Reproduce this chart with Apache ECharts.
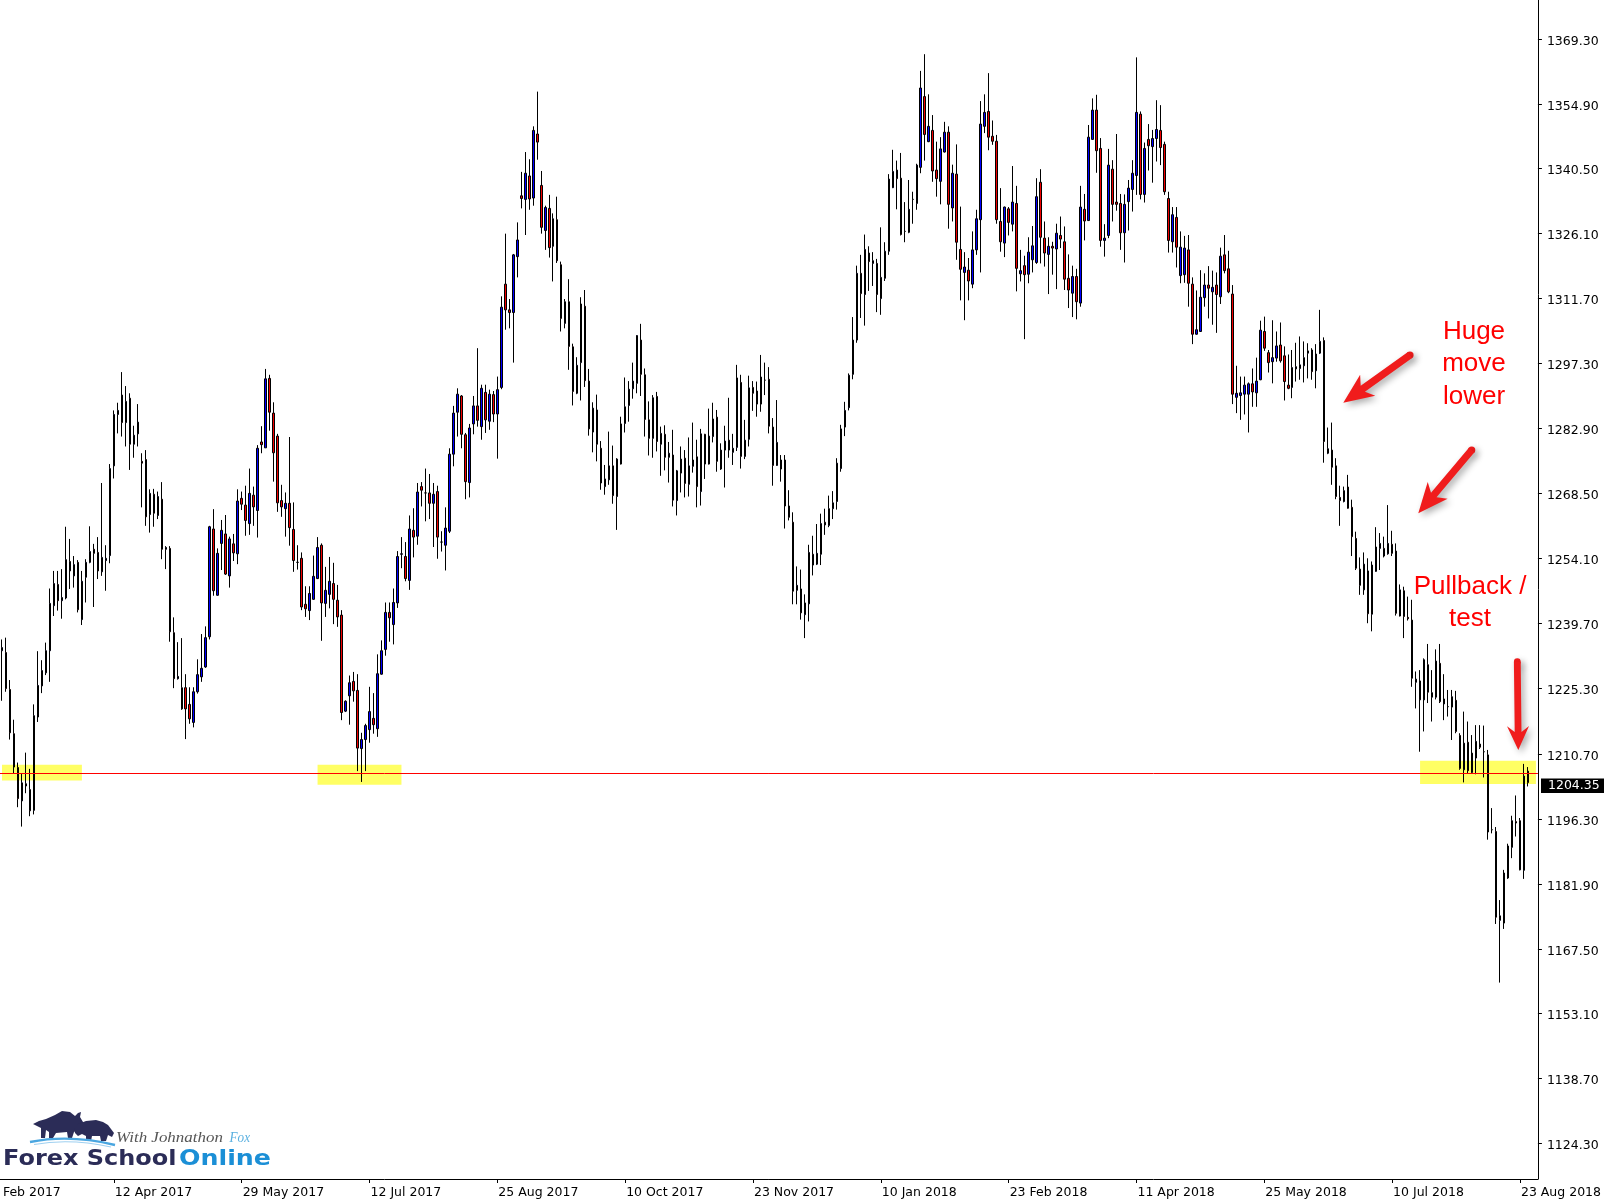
<!DOCTYPE html>
<html>
<head>
<meta charset="utf-8">
<script src="https://cdn.jsdelivr.net/npm/echarts@6/dist/echarts.min.js"></script>
<style>html,body{margin:0;padding:0;background:#fff}#c{width:1604px;height:1203px}</style>
</head>
<body>
<div id="c"></div>
<script>
// ---------------- DATA ----------------
const startDate = '2017-03-03';
const holidays = ['2017-04-14', '2017-12-25', '2018-01-01', '2018-03-30'];
const rightShiftBars = 2;
const labelEvery = 32, labelOffset = 28;

// [open, close, low, high]
const seg2017a = [
[1233.6,1234.3,1222.5,1236.1],[1233.2,1225.2,1224.5,1236.5],[1225.0,1215.4,1213.9,1227.1],[1215.2,1207.8,1206.3,1218.3],
[1207.7,1200.8,1198.9,1208.8],[1200.3,1204.3,1194.6,1206.3],[1204.1,1203.6,1202.0,1211.0],[1202.8,1198.1,1196.9,1207.4],
[1198.2,1219.2,1197.3,1221.7],[1218.9,1225.9,1217.8,1233.5],[1225.8,1229.2,1224.2,1231.5],[1228.7,1233.6,1228.2,1235.4],
[1233.6,1244.1,1226.7,1247.4],[1243.6,1248.5,1241.3,1251.3],[1248.3,1244.7,1242.5,1251.3],[1244.7,1245.4,1240.7,1251.7],
[1245.3,1253.8,1245.0,1261.1],[1253.4,1251.3,1247.3,1258.4],[1250.2,1252.7,1247.6,1254.6],[1253.2,1242.7,1242.1,1253.7],
[1240.5,1249.0,1239.3,1251.3],[1249.9,1253.2,1244.3,1253.9],[1253.2,1255.6,1253.0,1261.2],[1256.1,1255.2,1243.3,1257.3],
[1255.4,1251.3,1249.5,1258.8],[1251.1,1254.3,1250.2,1270.8],[1253.6,1254.1,1246.9,1257.0],[1254.7,1274.0,1253.0,1275.0],
[1274.6,1286.0,1271.8,1286.9],[1286.0,1286.9,1281.8,1288.6],[1290.3,1284.2,1281.1,1295.4],[1284.2,1288.9,1278.9,1292.3],
[1289.6,1279.4,1273.7,1290.7],[1279.4,1281.4,1276.4,1283.5],[1281.7,1284.3,1278.9,1288.3],[1275.6,1275.2,1265.4,1277.4],
[1276.0,1263.3,1261.3,1278.1],[1263.8,1268.5,1259.8,1269.4],[1268.3,1264.1,1261.1,1269.5],[1263.6,1267.8,1262.8,1268.9],
[1267.2,1256.1,1253.9,1271.0],[1256.1,1256.5,1251.7,1256.8],[1256.3,1237.8,1235.6,1256.8],[1237.6,1227.4,1225.3,1241.0],
[1227.4,1227.9,1227.2,1235.5],[1220.7,1225.4,1220.5,1236.4],[1225.4,1220.7,1214.0,1228.4],[1221.7,1218.5,1217.4,1225.5],
[1217.7,1224.5,1216.6,1225.5],[1224.5,1228.3,1224.1,1231.7]
];
const seg2017b = [
[1227.8,1229.7,1226.7,1237.3],[1230.0,1236.5,1229.8,1239.0],[1236.7,1261.1,1236.1,1261.3],[1260.6,1246.9,1245.8,1265.0],
[1245.9,1255.2,1245.8,1256.3],[1257.4,1260.3,1251.5,1262.6],[1259.5,1250.6,1250.4,1263.7],[1250.2,1258.4,1247.6,1258.9],
[1257.3,1255.3,1253.5,1259.5],[1255.1,1266.8,1252.8,1269.4],[1267.4,1266.1,1264.8,1268.9],[1265.9,1262.5,1259.1,1270.2],
[1261.8,1268.5,1259.3,1274.0],[1268.1,1265.5,1261.3,1270.0],[1264.7,1278.5,1258.7,1279.2],[1279.9,1279.3,1277.4,1283.4],
[1278.6,1293.9,1278.6,1296.1],[1294.0,1286.5,1282.4,1294.8],[1286.3,1277.5,1271.1,1288.7],[1281.2,1266.4,1264.4,1281.7],
[1266.9,1265.5,1263.3,1270.4],[1265.1,1266.3,1258.9,1268.7],[1266.3,1260.9,1256.9,1281.0],[1260.5,1253.6,1251.1,1266.5],
[1253.2,1253.2,1251.6,1257.0],[1254.1,1243.3,1242.6,1255.4],[1243.9,1242.9,1241.1,1247.9],[1242.5,1246.3,1240.4,1247.9],
[1245.0,1250.1,1244.9,1254.7],[1249.6,1256.5,1249.5,1258.8],[1257.0,1244.2,1235.8,1257.4],[1244.1,1247.0,1241.1,1252.2],
[1246.1,1249.0,1243.0,1254.4],[1248.5,1245.0,1239.5,1253.1],[1244.8,1241.1,1238.9,1248.2],[1241.5,1219.9,1218.2,1242.6],
[1220.2,1222.4,1220.0,1222.6],[1223.6,1226.5,1217.2,1228.1],[1226.8,1224.7,1222.3,1228.9],[1224.8,1212.0,1206.9,1228.4],
[1211.9,1213.9,1204.5,1215.4],[1213.9,1217.0,1206.9,1217.4],[1216.1,1220.1,1213.2,1225.6],[1218.6,1217.2,1215.2,1224.2],
[1216.3,1228.5,1214.5,1232.8],[1228.4,1233.6,1228.3,1235.9],[1233.9,1242.1,1232.5,1244.3],[1242.1,1240.9,1235.6,1244.3],
[1239.4,1244.3,1235.0,1247.4],[1244.2,1254.5,1243.1,1255.7]
];
const seg2017c = [
[1255.0,1255.1,1251.9,1258.8],[1254.5,1249.6,1249.0,1257.7],[1249.2,1260.6,1247.1,1263.6],[1260.3,1258.8,1254.3,1265.2],
[1259.0,1268.8,1257.1,1270.8],[1270.0,1269.2,1265.6,1271.0],[1268.6,1268.6,1262.3,1274.0],[1268.6,1266.3,1262.8,1272.8],
[1266.3,1268.3,1256.6,1270.8],[1268.9,1258.8,1254.0,1270.2],[1257.7,1257.7,1255.6,1260.1],[1257.0,1260.8,1251.4,1265.4],
[1260.1,1277.2,1259.7,1278.5],[1277.2,1286.3,1274.5,1287.9],[1286.5,1290.5,1281.1,1291.8],[1290.1,1281.6,1278.5,1290.3],
[1281.5,1271.1,1267.2,1281.9],[1270.9,1283.0,1267.6,1283.9],[1283.9,1287.9,1281.6,1290.1],[1287.9,1284.7,1283.3,1300.7],
[1283.3,1291.8,1280.4,1292.6],[1290.9,1284.8,1281.9,1292.6],[1284.5,1290.5,1282.6,1291.5],[1290.4,1286.1,1284.3,1291.2],
[1286.1,1291.5,1276.2,1294.4],[1292.0,1309.8,1291.6,1312.2],[1314.9,1309.2,1304.8,1326.1],[1309.2,1308.6,1305.1,1311.6],
[1308.6,1321.4,1297.5,1321.6],[1321.0,1324.7,1316.4,1328.6],[1334.5,1333.9,1331.7,1339.8],[1333.7,1339.5,1325.8,1344.2],
[1338.9,1333.8,1331.4,1342.6],[1334.0,1349.0,1332.3,1349.9],[1348.2,1346.4,1342.5,1357.6],[1336.8,1327.5,1326.1,1340.0],
[1326.8,1331.9,1322.5,1332.3],[1331.7,1323.0,1320.8,1334.7],[1323.3,1329.4,1315.5,1330.6],[1329.2,1320.1,1319.6,1334.3],
[1319.2,1307.3,1304.4,1319.9],[1306.2,1311.0,1305.1,1311.6],[1311.0,1301.1,1295.9,1316.0],[1301.0,1291.1,1288.0,1301.7],
[1290.7,1296.9,1290.5,1298.7],[1297.5,1310.5,1289.1,1312.0],[1310.0,1293.5,1292.1,1313.6],[1293.4,1282.8,1281.3,1296.1],
[1282.1,1287.4,1277.6,1288.7],[1287.0,1279.4,1275.6,1290.4]
];
const seg2017d = [
[1278.5,1270.8,1269.3,1280.1],[1270.0,1271.7,1268.2,1274.8],[1271.5,1274.6,1270.4,1282.2],[1274.6,1268.0,1266.2,1279.1],
[1267.8,1276.1,1260.4,1276.3],[1275.0,1283.9,1274.9,1285.5],[1284.0,1287.7,1282.0,1294.2],[1288.0,1291.6,1284.4,1293.4],
[1291.7,1293.4,1289.5,1297.5],[1292.9,1303.5,1290.7,1303.6],[1302.5,1294.9,1290.1,1306.1],[1294.8,1284.9,1281.1,1296.2],
[1284.8,1280.7,1276.9,1288.9],[1280.7,1289.7,1276.4,1290.3],[1290.0,1280.0,1277.8,1291.0],[1279.4,1281.8,1272.4,1283.3],
[1281.6,1276.5,1273.6,1283.6],[1276.5,1277.4,1270.9,1279.9],[1277.0,1267.0,1265.6,1282.6],[1266.9,1273.5,1263.6,1273.7],
[1273.0,1276.1,1268.7,1278.9],[1276.3,1270.7,1267.6,1278.1],[1270.5,1274.6,1267.8,1280.9],[1274.5,1275.9,1273.1,1284.2],
[1276.6,1270.0,1265.4,1280.4],[1268.9,1281.7,1265.8,1282.8],[1281.6,1275.0,1271.7,1281.7],[1275.0,1281.2,1274.9,1287.3],
[1281.1,1285.0,1279.8,1288.6],[1285.4,1275.6,1273.3,1287.0],[1273.9,1278.1,1273.7,1279.6],[1278.1,1280.1,1269.8,1283.5],
[1280.3,1278.1,1276.4,1289.7],[1277.6,1278.5,1274.8,1281.7],[1278.7,1294.1,1277.9,1297.0],[1293.1,1276.7,1274.0,1294.8],
[1276.7,1280.3,1276.1,1284.8],[1280.5,1291.9,1278.9,1294.6],[1292.0,1290.7,1286.8,1293.4],[1291.2,1288.3,1285.5,1293.3],
[1288.3,1294.3,1286.6,1299.2],[1293.6,1293.6,1290.3,1297.5],[1293.8,1283.4,1281.8,1296.5],[1283.2,1274.7,1270.2,1285.2],
[1274.7,1279.8,1274.6,1289.2],[1273.9,1275.9,1271.1,1277.0],[1275.9,1265.7,1260.7,1277.0],[1265.7,1263.2,1262.5,1269.2],
[1262.1,1246.8,1243.9,1264.3],[1247.0,1248.1,1243.9,1252.3]
];
const seg2018a = [
[1247.3,1242.0,1240.5,1251.6],[1241.6,1244.2,1236.4,1246.1],[1244.0,1255.4,1240.1,1257.1],[1255.0,1252.6,1250.3,1259.1],
[1252.8,1255.2,1252.6,1261.7],[1255.0,1261.8,1252.6,1264.0],[1262.1,1261.5,1259.3,1265.1],[1261.4,1265.1,1261.0,1268.0],
[1265.1,1266.4,1262.8,1269.0],[1266.7,1275.2,1264.9,1276.3],[1274.0,1282.8,1273.3,1283.7],[1283.2,1286.9,1281.2,1288.8],
[1287.5,1294.7,1286.9,1295.1],[1294.9,1302.5,1293.8,1307.6],[1302.5,1317.3,1301.9,1319.0],[1317.3,1312.8,1307.4,1321.4],
[1312.6,1322.6,1305.7,1325.9],[1321.8,1319.9,1313.4,1323.3],[1319.5,1320.1,1314.5,1322.0],[1319.5,1312.6,1308.7,1320.5],
[1311.7,1316.4,1308.1,1327.5],[1316.2,1322.2,1315.6,1324.2],[1322.2,1338.2,1321.4,1339.3],[1336.3,1339.9,1336.2,1344.7],
[1340.2,1338.3,1331.5,1342.3],[1338.4,1325.9,1325.7,1344.0],[1326.6,1326.6,1324.2,1333.1],[1326.4,1331.5,1326.2,1338.0],
[1333.7,1333.7,1328.3,1335.4],[1332.8,1341.3,1331.4,1341.6],[1340.8,1358.4,1339.5,1362.2],[1356.5,1348.1,1342.3,1365.9],
[1346.5,1349.9,1346.4,1357.0],[1349.0,1340.0,1337.6,1352.4],[1340.2,1338.3,1334.3,1346.5],[1337.7,1344.9,1332.6,1347.5],
[1344.2,1348.6,1344.1,1350.9],[1348.6,1332.6,1327.2,1349.9],[1331.8,1339.5,1328.8,1341.4],[1339.3,1324.2,1320.3,1345.9],
[1322.6,1318.2,1311.3,1332.1],[1317.5,1318.7,1306.9,1322.0],[1318.0,1315.6,1311.3,1320.7],[1314.9,1322.5,1314.0,1326.6],
[1322.5,1329.4,1321.4,1331.4],[1329.2,1350.4,1317.5,1355.5],[1349.9,1353.0,1348.4,1357.0],[1353.2,1347.5,1344.6,1361.7],
[1347.7,1346.6,1345.8,1351.2],[1346.6,1329.2,1328.3,1348.0]
];
const seg2018b = [
[1328.8,1324.3,1322.1,1336.2],[1324.0,1332.0,1320.9,1332.1],[1331.6,1328.6,1325.7,1332.0],[1328.2,1333.1,1326.6,1341.1],
[1332.8,1318.4,1313.3,1336.7],[1317.2,1317.9,1315.5,1322.5],[1319.0,1317.0,1302.7,1321.2],[1317.1,1322.0,1315.1,1325.3],
[1320.3,1323.4,1317.5,1327.8],[1319.7,1334.3,1319.4,1338.4],[1337.5,1325.3,1319.5,1340.4],[1325.1,1321.8,1318.8,1328.8],
[1321.5,1323.3,1312.7,1325.3],[1323.3,1322.9,1317.0,1324.3],[1322.7,1326.2,1313.8,1328.3],[1325.7,1324.9,1322.9,1329.9],
[1324.3,1316.0,1313.6,1327.7],[1316.2,1313.6,1309.6,1321.5],[1312.9,1316.6,1307.6,1319.0],[1316.6,1311.0,1307.1,1318.3],
[1310.7,1332.0,1309.9,1336.7],[1331.5,1328.9,1324.6,1334.9],[1329.0,1347.5,1328.9,1350.2],[1347.0,1353.5,1347.0,1356.1],
[1353.5,1344.5,1339.6,1356.9],[1345.0,1324.6,1323.2,1347.3],[1324.6,1325.1,1321.0,1328.2],[1325.7,1341.3,1325.1,1344.9],
[1340.4,1332.6,1328.8,1342.4],[1333.1,1332.6,1331.2,1348.2],[1332.8,1326.3,1322.5,1334.9],[1326.3,1332.6,1319.7,1334.8],
[1333.2,1336.2,1326.8,1338.0],[1335.9,1339.5,1331.0,1342.4],[1339.0,1353.0,1334.7,1365.2],[1352.6,1334.8,1333.7,1353.2],
[1334.8,1345.0,1333.0,1346.3],[1347.0,1345.6,1340.1,1350.4],[1345.4,1347.2,1337.4,1349.1],[1347.2,1349.2,1342.1,1355.7],
[1349.0,1345.2,1341.3,1354.6],[1345.9,1335.4,1334.7,1346.5],[1333.9,1324.6,1321.9,1335.4],[1324.3,1330.3,1321.9,1332.0],
[1329.7,1323.1,1318.6,1332.0],[1316.8,1323.1,1315.1,1326.6],[1317.0,1322.9,1315.2,1325.6],[1322.5,1315.1,1309.9,1325.8],
[1314.9,1303.8,1301.6,1316.4],[1303.8,1304.8,1303.7,1313.5]
];
const seg2018c = [
[1304.4,1312.0,1304.3,1318.0],[1311.9,1314.7,1309.9,1317.3],[1314.7,1314.0,1307.3,1318.9],[1313.2,1314.2,1305.9,1317.9],
[1314.7,1312.6,1304.1,1317.5],[1312.1,1321.1,1310.5,1323.0],[1321.4,1317.9,1317.3,1325.8],[1318.3,1313.2,1312.9,1322.3],
[1312.7,1290.5,1288.3,1314.7],[1289.8,1290.7,1286.3,1296.8],[1290.2,1290.8,1284.8,1294.4],[1290.5,1292.5,1286.0,1294.4],
[1290.5,1292.8,1282.0,1293.1],[1292.8,1291.0,1287.7,1296.2],[1290.8,1293.4,1287.7,1298.6],[1293.7,1304.7,1293.6,1306.8],
[1304.4,1300.7,1300.1,1307.7],[1299.7,1297.5,1295.3,1300.3],[1297.7,1298.6,1292.9,1306.9],[1298.5,1301.2,1297.7,1304.4],
[1301.4,1297.9,1297.5,1306.4],[1299.0,1293.3,1289.1,1301.1],[1292.5,1291.8,1291.6,1299.3],[1292.0,1296.4,1289.6,1300.3],
[1296.1,1296.6,1293.3,1301.9],[1296.2,1297.0,1293.7,1303.3],[1296.8,1298.6,1293.1,1302.2],[1299.6,1300.1,1294.0,1301.8],
[1300.3,1295.5,1293.7,1300.7],[1295.7,1299.4,1291.8,1301.6],[1299.6,1302.2,1299.4,1309.2],[1302.4,1280.0,1275.3,1303.1],
[1277.4,1278.4,1277.2,1283.1],[1278.1,1274.3,1270.4,1284.2],[1274.6,1267.8,1267.2,1276.3],[1267.6,1266.9,1261.3,1270.2],
[1266.7,1269.1,1266.5,1270.0],[1269.9,1265.2,1265.1,1272.6],[1265.4,1258.9,1254.6,1267.1],[1258.5,1251.9,1251.5,1260.0],
[1251.7,1248.1,1246.0,1254.3],[1247.1,1252.8,1246.0,1255.4],[1251.3,1241.8,1239.7,1254.1],[1241.7,1252.6,1237.9,1253.4],
[1251.2,1256.6,1251.1,1261.0],[1256.3,1257.4,1251.5,1259.7],[1256.3,1254.6,1254.3,1258.9],[1255.1,1257.4,1254.9,1265.9],
[1257.2,1255.2,1254.6,1260.2],[1255.7,1241.9,1241.4,1257.4]
];
const seg2018d = [
[1241.3,1247.1,1241.2,1248.3],[1246.9,1241.2,1236.4,1247.8],[1241.0,1240.7,1240.3,1245.6],[1240.4,1227.5,1225.6,1244.9],
[1226.6,1227.3,1220.8,1229.0],[1226.9,1222.7,1211.2,1229.3],[1222.7,1231.6,1215.7,1231.9],[1230.5,1224.4,1222.0,1235.1],
[1223.3,1224.3,1217.9,1229.3],[1223.3,1231.3,1222.8,1233.9],[1230.8,1222.3,1222.0,1235.1],[1221.8,1222.9,1218.2,1228.4],
[1221.2,1221.2,1219.0,1224.9],[1221.1,1223.4,1213.8,1224.9],[1222.6,1215.7,1215.3,1224.7],[1214.8,1207.5,1207.2,1215.3],
[1207.2,1213.1,1204.4,1220.1],[1213.3,1207.0,1206.4,1217.9],[1206.6,1210.9,1206.4,1214.9],[1209.8,1213.5,1206.2,1217.1],
[1212.9,1212.2,1211.8,1217.1],[1211.2,1211.2,1205.5,1217.0],[1210.5,1193.4,1191.7,1211.6],[1193.9,1193.9,1193.1,1198.7],
[1193.5,1174.5,1173.0,1194.5],[1173.8,1174.8,1160.0,1178.3],[1173.2,1184.3,1171.9,1185.0],[1183.2,1190.3,1183.0,1190.8],
[1190.0,1195.9,1187.6,1197.0],[1195.7,1195.4,1192.4,1201.5],[1195.9,1185.0,1184.9,1196.5],[1184.9,1205.8,1183.0,1208.5],
[1206.9,1204.35,1203.5,1207.8]
];

const priceTicks = [1369.30,1354.90,1340.50,1326.10,1311.70,1297.30,1282.90,1268.50,1254.10,1239.70,
                    1225.30,1210.70,1196.30,1181.90,1167.50,1153.10,1138.70,1124.30];
const yMin = 1116.44, yMax = 1377.92;
const supportLevel = 1206.4;
// highlight zones: [startBar, endBar, lowPrice, highPrice]
const zones = [[0, 20, 1204.8, 1208.3], [79, 100, 1203.9, 1208.3], [355, 384, 1204.05, 1209.2]];

// ---------------- BUILD ----------------
const ohlc = [].concat(seg2017a, seg2017b, seg2017c, seg2017d, seg2018a, seg2018b, seg2018c, seg2018d);
const lastPrice = ohlc[ohlc.length - 1][1];
const months = ['Jan','Feb','Mar','Apr','May','Jun','Jul','Aug','Sep','Oct','Nov','Dec'];
function isTrading(d) {
  const wd = d.getUTCDay();
  return wd !== 0 && wd !== 6 && holidays.indexOf(d.toISOString().slice(0, 10)) < 0;
}
function fmt(d) { return d.getUTCDate() + ' ' + months[d.getUTCMonth()] + ' ' + d.getUTCFullYear(); }
function tradingDays(start, count) {
  const out = []; const d = new Date(start + 'T00:00:00Z');
  while (out.length < count) { if (isTrading(d)) out.push(fmt(d)); d.setUTCDate(d.getUTCDate() + 1); }
  return out;
}
function tradingDayBefore(start, n) {
  const d = new Date(start + 'T00:00:00Z'); let k = 0;
  while (k < n) { d.setUTCDate(d.getUTCDate() - 1); if (isTrading(d)) k++; }
  return fmt(d);
}
const categories = tradingDays(startDate, ohlc.length + rightShiftBars);
const candleData = ohlc.concat(new Array(rightShiftBars).fill('-'));
const firstHiddenLabel = tradingDayBefore(startDate, labelEvery - labelOffset);

const chart = echarts.init(document.getElementById('c'), null, { renderer: 'canvas', width: 1604, height: 1203 });
const axisFont = 'DejaVu Sans';
const labelFilter = (i) => i % labelEvery === labelOffset;

chart.setOption({
  animation: false,
  backgroundColor: '#ffffff',
  grid: { left: -0.5, right: 64.5, top: 0, bottom: 24 },
  xAxis: {
    type: 'category', data: categories, boundaryGap: true,
    axisLine: { lineStyle: { color: '#000', width: 1 } },
    axisTick: { show: true, alignWithLabel: true, interval: labelFilter, length: 4, lineStyle: { color: '#000' } },
    axisLabel: { interval: labelFilter, align: 'left', margin: 7, color: '#000', fontFamily: axisFont, fontSize: 12.5, padding: [0, 0, 0, 1] },
    splitLine: { show: false }
  },
  yAxis: {
    type: 'value', position: 'right', min: yMin, max: yMax, scale: true,
    axisLine: { show: true, lineStyle: { color: '#000', width: 1 } },
    axisTick: { show: true, length: 4, customValues: priceTicks, lineStyle: { color: '#000' } },
    axisLabel: {
      customValues: priceTicks, margin: 9,
      formatter: (v) => '{p|' + Number(v).toFixed(2) + '}',
      rich: { p: { color: '#000', fontFamily: axisFont, fontSize: 12.5, padding: [5, 0, 0, 0] } }
    },
    splitLine: { show: false }
  },
  series: [
    {
      type: 'line', data: [], z: 1, silent: true,
      markArea: {
        silent: true, itemStyle: { color: '#ffff64' },
        data: zones.map(z => [{ coord: [z[0], z[3]] }, { coord: [z[1], z[2]] }])
      }
    },
    {
      type: 'candlestick', data: candleData, z: 2, barWidth: 2, silent: true,
      itemStyle: { color: '#0000ff', color0: '#f00000', borderColor: '#000', borderColor0: '#000', borderColorDoji: '#000', borderWidth: 1 }
    },
    {
      type: 'line', data: [], z: 3, silent: true,
      markLine: {
        silent: true, symbol: ['none', 'none'], label: { show: false },
        lineStyle: { color: '#ff0000', width: 1, type: 'solid' },
        data: [{ yAxis: supportLevel }]
      }
    }
  ]
});

// ---------------- ANNOTATIONS / LOGO ----------------
function measure(text, font) {
  const ctx = document.createElement('canvas').getContext('2d'); ctx.font = font; return ctx.measureText(text).width;
}
function arrowEls(tx, ty, px, py, hl, hw, sw) {
  const dx = px - tx, dy = py - ty, L = Math.hypot(dx, dy), ux = dx / L, uy = dy / L, nx = -uy, ny = ux;
  const bx = px - ux * hl, by = py - uy * hl;
  const mx = px - ux * (hl - 6), my = py - uy * (hl - 6);
  const pts = [[px, py], [bx + nx * hw, by + ny * hw], [mx + nx * sw, my + ny * sw], [tx + nx * sw, ty + ny * sw],
               [tx - nx * sw, ty - ny * sw], [mx - nx * sw, my - ny * sw], [bx - nx * hw, by - ny * hw]];
  const sh = { shadowBlur: 7, shadowColor: 'rgba(0,0,0,0.33)', shadowOffsetX: 3, shadowOffsetY: 3 };
  return [
    { type: 'circle', shape: { cx: tx, cy: ty, r: sw }, style: Object.assign({ fill: '#f01c1c' }, sh), z: 100 },
    { type: 'polygon', shape: { points: pts }, style: Object.assign({ fill: '#f01c1c' }, sh), z: 101 }
  ];
}
const annFont = '26px "Liberation Sans"';
function annText(t, x, y) {
  return { type: 'text', x: x, y: y, z: 110, style: { text: t, font: annFont, fill: '#ff0000', align: 'center', verticalAlign: 'middle' } };
}

const bandW = 1540 / categories.length;
const x0 = chart.convertToPixel({ xAxisIndex: 0 }, 0);
const axisY = 1203 - 24;
const yLast = chart.convertToPixel({ yAxisIndex: 0 }, lastPrice);

const navy = '#2b2c57', logoBlue = '#1b8fd6';
const logoFont = 'bold 21px "DejaVu Sans"';
const wFS = measure('Forex School', logoFont), wOn = measure('Online', logoFont);
const scriptFont = 'italic 15px "Liberation Serif"';
const wWJ = measure('With Johnathon', scriptFont), wFox = measure('Fox', scriptFont);

const bull = [[33,1124],[39,1121],[46,1119],[55,1115],[62,1111],[70,1112],[75,1116],[78,1113],[81,1112],[80,1117],
  [83,1122],[85,1129],[82,1132],[78,1129],[74,1132],[72,1138],[68,1138],[67,1132],[56,1133],[53,1138],[49,1138],
  [49,1132],[46,1130],[45,1138],[41,1138],[41,1128],[37,1126]];
const bear = [[74,1129],[78,1124],[86,1121],[96,1120],[103,1122],[108,1125],[111,1129],[114,1133],[112,1137],[108,1135],
  [106,1141],[101,1141],[100,1136],[92,1136],[91,1141],[86,1141],[86,1136],[82,1134],[78,1136],[75,1133]];

const hiddenTickX = x0 - (labelEvery - labelOffset) * bandW;
const graphics = [
  // label belonging to a bar left of the visible window (cut by the canvas edge)
  { type: 'text', x: hiddenTickX - 3, y: axisY + 7, z: 50,
    style: { text: firstHiddenLabel, font: '12.5px "DejaVu Sans"', fill: '#000', align: 'left', verticalAlign: 'top' } },
  // last price box
  { type: 'rect', shape: { x: 1541, y: Math.round(yLast) - 4.5, width: 63, height: 14.5 }, style: { fill: '#000' }, z: 60 },
  { type: 'text', x: 1548, y: Math.round(yLast) + 2.8, z: 61,
    style: { text: lastPrice.toFixed(2), font: '12.5px "DejaVu Sans"', fill: '#fff', align: 'left', verticalAlign: 'middle' } },
  // annotations
  annText('Huge', 1474, 331.5), annText('move', 1474, 364), annText('lower', 1474, 396.5),
  annText('Pullback /', 1470, 587), annText('test', 1470, 619),
  // logo
  { type: 'polygon', shape: { points: bull }, style: { fill: navy }, z: 70 },
  { type: 'polygon', shape: { points: bear }, style: { fill: navy }, z: 70 },
  { type: 'bezierCurve', shape: { x1: 30, y1: 1142, x2: 115, y2: 1145, cpx1: 70, cpy1: 1134 }, style: { stroke: '#4aa6e0', lineWidth: 2.4, fill: null }, z: 71 },
  { type: 'bezierCurve', shape: { x1: 34, y1: 1144.5, x2: 111, y2: 1147, cpx1: 70, cpy1: 1138 }, style: { stroke: '#9fd0f0', lineWidth: 1.2, fill: null }, z: 71 },
  { type: 'text', x: 116, y: 1138.5, scaleX: 107 / wWJ, z: 72,
    style: { text: 'With Johnathon', font: scriptFont, fill: '#555555', align: 'left', verticalAlign: 'middle' } },
  { type: 'text', x: 229.5, y: 1138.5, scaleX: 20.5 / wFox, z: 72,
    style: { text: 'Fox', font: scriptFont, fill: '#5ab0e0', align: 'left', verticalAlign: 'middle' } },
  { type: 'text', x: 3, y: 1160, scaleX: 173.5 / wFS, z: 72,
    style: { text: 'Forex School', font: logoFont, fill: navy, align: 'left', verticalAlign: 'middle' } },
  { type: 'text', x: 179, y: 1160, scaleX: 92 / wOn, z: 72,
    style: { text: 'Online', font: logoFont, fill: logoBlue, align: 'left', verticalAlign: 'middle' } }
].concat(
  arrowEls(1410, 355, 1343.3, 402.7, 30, 13, 3.6),
  arrowEls(1471.7, 450, 1418.3, 513.3, 30, 13, 3.6),
  arrowEls(1517.3, 661.7, 1518.3, 750, 24, 11, 3.4)
);
chart.setOption({ graphic: graphics });
</script>
</body>
</html>
